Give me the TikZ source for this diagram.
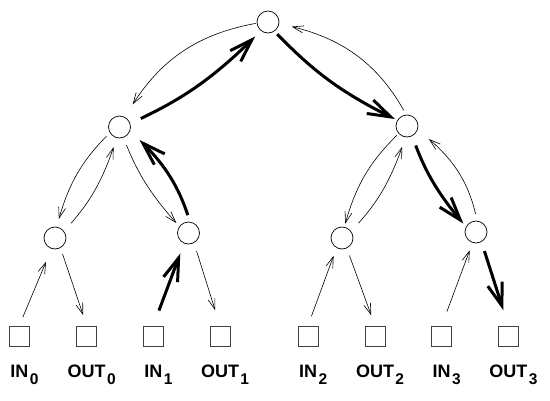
\documentclass[tikz,border=0pt]{standalone}
\usepackage{fontspec}
\setmainfont{Liberation Sans}
\usetikzlibrary{arrows.meta,bending}
\begin{document}
\begin{tikzpicture}[x=1pt,y=-1pt,
  vtx/.style={circle,draw,line width=0.7pt,minimum size=22pt,inner sep=0pt},
  leaf/.style={rectangle,draw=black!75,line width=0.8pt,minimum size=20pt,inner sep=0pt},
  thinarr/.style={line width=0.6pt,-{Straight Barb[length=11pt,width=7pt]}},
  thickarr/.style={line width=3pt,-{Straight Barb[length=23pt,width=15pt]}},
  lab/.style={anchor=base,inner sep=0pt,font=\fontsize{18}{18}\selectfont\bfseries}
]
\useasboundingbox (0,0) rectangle (550,400);
% tree nodes
\node[vtx] (R) at (268,22) {};
\node[vtx] (A) at (119.5,127) {};
\node[vtx] (B) at (407,126) {};
\node[vtx] (a1) at (55,238) {};
\node[vtx] (a2) at (188.5,233) {};
\node[vtx] (b1) at (342,238) {};
\node[vtx] (b2) at (476,232) {};
% leaves
\node[leaf] (s0) at (19.3,336) {};
\node[leaf] (s1) at (86.7,336) {};
\node[leaf] (s2) at (153.3,336) {};
\node[leaf] (s3) at (220,336) {};
\node[leaf] (s4) at (308,336) {};
\node[leaf] (s5) at (375,336) {};
\node[leaf] (s6) at (441.7,336) {};
\node[leaf] (s7) at (508.3,336) {};
% labels
\newcommand{\sbs}[1]{\rlap{\hspace{1.5pt}\raisebox{-7.5pt}{\fontsize{15.5}{15.5}\selectfont #1}}}
\node[lab] (l0) at (19.3,377) {IN\sbs{0}};
\node[lab] (l1) at (86.7,377) {OUT\sbs{0}};
\node[lab] (l2) at (153.3,377) {IN\sbs{1}};
\node[lab] (l3) at (220,377) {OUT\sbs{1}};
\node[lab] (l4) at (308,377) {IN\sbs{2}};
\node[lab] (l5) at (375,377) {OUT\sbs{2}};
\node[lab] (l6) at (441.7,377) {IN\sbs{3}};
\node[lab] (l7) at (508.3,377) {OUT\sbs{3}};
% root level
\draw[thinarr, shorten <=1pt, shorten >=15pt] (R.186) to[bend right=25] (A.61);
\draw[thickarr, shorten <=11.6pt, shorten >=8pt] (A.18) to[bend right=10] (R.231);
\draw[thickarr, shorten <=4pt, shorten >=2.5pt] (R.305) to[bend right=10] (B.149);
\draw[thinarr, shorten <=5pt, shorten >=12.8pt] (B.94) to[bend right=25] (R.350);
% level 1
\draw[thinarr, shorten <=4.7pt, shorten >=8pt] (A.211) to[bend right=15] (a1.81);
\draw[thinarr, shorten <=10.4pt, shorten >=9.7pt] (a1.37) to[bend right=12] (A.255);
\draw[thinarr, shorten <=8pt, shorten >=4.4pt] (A.290) to[bend right=10] (a2.144);
\draw[thickarr, shorten <=7pt, shorten >=13pt] (a2.82) to[bend right=15] (A.338);
\draw[thinarr, shorten <=2.5pt, shorten >=3.3pt] (B.222) to[bend right=15] (b1.78);
\draw[thinarr, shorten <=11pt, shorten >=10pt] (b1.36) to[bend right=12] (B.262);
\draw[thickarr, shorten <=10pt, shorten >=4pt] (B.297) to[bend right=10] (b2.152);
\draw[thinarr, shorten <=7pt, shorten >=14.6pt] (b2.84) to[bend right=20] (B.339);
% leaves
\draw[thinarr, shorten <=9pt, shorten >=14pt] (s0.north) -- (a1.252);
\draw[thinarr, shorten <=6.5pt, shorten >=11pt] (a1.299) -- (s1.north);
\draw[thickarr, shorten <=16pt, shorten >=10.7pt] (s2.north) -- (a2.247);
\draw[thinarr, shorten <=8.5pt, shorten >=16pt] (a2.299) -- (s3.north);
\draw[thinarr, shorten <=10pt, shorten >=8.4pt] (s4.north) -- (b1.241);
\draw[thinarr, shorten <=7.8pt, shorten >=11pt] (b1.295) -- (s5.north);
\draw[thinarr, shorten <=15pt, shorten >=8pt] (s6.north) -- (b2.252);
\draw[thickarr, shorten <=9.6pt, shorten >=16pt] (b2.299) -- (s7.north);
\end{tikzpicture}
\end{document}
